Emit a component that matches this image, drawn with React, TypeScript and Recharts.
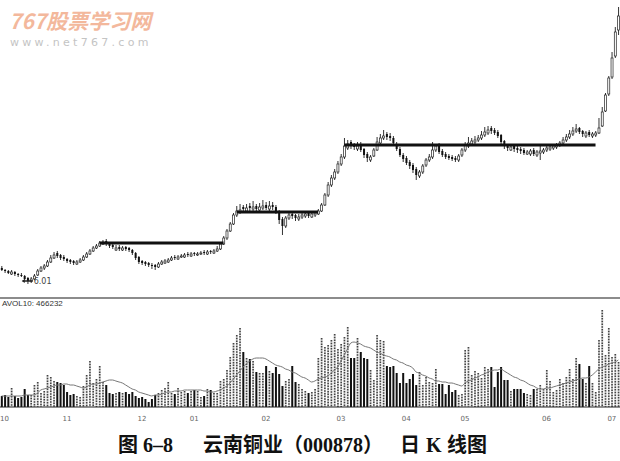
import { ComposedChart, Bar, Line, XAxis, YAxis, ReferenceLine, ReferenceDot } from "recharts";

// month labels on the volume axis, by bar index
const monthTicks = [0, 20, 43, 59, 81, 104, 124, 142, 167, 187];
const monthLabels = ["10", "11", "12", "01", "02", "03", "04", "05", "06", "07"];

const opens = [
  3.2, 3.0, 2.9, 2.6, 2.8, 2.6, 2.5, 2.4, 2.2, 1.9,
  2.1, 2.5, 2.9, 3.2, 3.4, 3.8, 4.2, 4.7, 4.5, 4.3,
  4.1, 4.0, 3.9, 3.6, 3.8, 4.0, 4.3, 4.6, 4.9, 5.2,
  5.4, 5.6, 5.9, 5.7, 5.5, 5.0, 5.3, 5.0, 5.3, 5.2,
  5.0, 4.7, 4.3, 3.9, 3.8, 3.7, 3.5, 3.5, 3.3, 3.6,
  3.7, 3.8, 4.0, 4.3, 4.1, 4.3, 4.3, 4.6, 4.4, 4.7,
  4.5, 4.6, 4.8, 4.6, 4.9, 4.7, 4.9, 5.1, 5.6, 6.2,
  6.9, 7.6, 8.5, 8.8, 9.3, 8.9, 9.4, 9.1, 9.4, 9.0,
  9.2, 9.5, 9.1, 9.5, 9.3, 8.9, 8.1, 7.4, 8.2, 8.6,
  8.5, 8.1, 8.3, 8.4, 8.7, 8.3, 8.5, 8.6, 8.9, 9.5,
  10.5, 11.5, 12.2, 12.8, 13.6, 14.3, 15.2, 15.8, 15.5, 15.1,
  15.5, 15.1, 14.6, 14.0, 14.4, 15.0, 15.7, 16.2, 16.6, 16.4,
  16.2, 15.6, 15.1, 14.5, 14.2, 13.8, 13.5, 13.1, 12.4, 12.8,
  13.5, 14.0, 14.3, 15.0, 15.6, 14.9, 14.6, 14.4, 14.3, 14.2,
  14.0, 14.5, 15.0, 15.4, 15.6, 15.8, 16.0, 16.2, 16.5, 16.7,
  17.2, 17.0, 16.8, 16.5, 15.9, 15.5, 15.0, 15.4, 15.2, 15.1,
  15.0, 14.6, 14.6, 15.0, 14.5, 14.7, 14.8, 15.0, 15.1, 15.2,
  15.3, 15.5, 15.7, 16.0, 16.3, 16.6, 16.9, 17.2, 16.9, 16.4,
  16.8, 16.4, 16.5, 16.7, 17.4, 18.9, 20.6, 22.3, 24.4, 27.0,
];

const closes = [
  3.0, 2.9, 2.7, 2.8, 2.6, 2.5, 2.4, 2.1, 1.9, 2.1,
  2.4, 2.9, 3.2, 3.4, 3.8, 4.2, 4.5, 4.4, 4.2, 4.1,
  3.9, 3.8, 3.7, 3.8, 4.0, 4.3, 4.6, 4.9, 5.2, 5.4,
  5.7, 5.8, 5.6, 5.4, 5.3, 5.2, 5.1, 5.2, 5.1, 5.0,
  4.7, 4.2, 3.8, 3.7, 3.6, 3.5, 3.4, 3.3, 3.6, 3.8,
  3.9, 4.0, 4.2, 4.2, 4.3, 4.4, 4.5, 4.5, 4.6, 4.6,
  4.6, 4.7, 4.7, 4.8, 4.8, 4.9, 5.1, 5.6, 6.2, 6.9,
  7.6, 8.5, 8.9, 9.0, 9.1, 9.2, 9.2, 9.3, 9.1, 9.3,
  9.4, 9.2, 9.4, 9.3, 8.9, 8.0, 7.4, 8.2, 8.5, 8.4,
  8.2, 8.3, 8.5, 8.6, 8.4, 8.6, 8.7, 8.9, 9.5, 10.5,
  11.5, 12.2, 12.8, 13.6, 14.3, 15.4, 15.6, 15.4, 15.3, 15.4,
  15.0, 14.5, 14.2, 14.3, 15.0, 15.8, 16.2, 16.4, 16.3, 16.2,
  15.7, 15.1, 14.5, 14.1, 13.7, 13.4, 13.0, 12.5, 12.8, 13.4,
  14.0, 14.3, 15.0, 15.4, 14.8, 14.5, 14.3, 14.2, 14.1, 14.0,
  14.4, 15.0, 15.5, 15.7, 15.9, 16.0, 16.2, 16.5, 16.8, 17.0,
  16.9, 16.7, 16.4, 15.8, 15.4, 15.2, 15.3, 15.1, 15.0, 14.9,
  14.7, 14.8, 14.9, 14.6, 14.8, 14.9, 15.0, 15.2, 15.3, 15.4,
  15.5, 15.7, 16.0, 16.3, 16.6, 16.9, 17.1, 16.8, 16.6, 16.7,
  16.5, 16.6, 16.7, 17.2, 18.8, 20.5, 22.2, 24.2, 26.8, 28.4,
];

const highs = [
  3.4, 3.1, 3.0, 3.0, 2.9, 2.7, 2.7, 2.5, 2.3, 2.3,
  2.6, 3.1, 3.4, 3.6, 4.0, 4.5, 4.8, 4.9, 4.6, 4.5,
  4.2, 4.1, 4.0, 4.0, 4.2, 4.5, 4.8, 5.1, 5.4, 5.6,
  5.9, 6.0, 6.1, 5.8, 5.7, 5.5, 5.5, 5.4, 5.4, 5.3,
  5.1, 4.8, 4.4, 4.0, 3.9, 3.8, 3.7, 3.6, 3.8, 4.0,
  4.1, 4.2, 4.4, 4.5, 4.5, 4.6, 4.7, 4.8, 4.8, 4.8,
  4.8, 4.9, 5.0, 5.0, 5.0, 5.1, 5.4, 5.8, 6.4, 7.1,
  7.8, 8.7, 9.4, 9.6, 9.5, 9.6, 9.7, 9.9, 9.6, 9.7,
  10.0, 9.8, 9.9, 9.8, 9.5, 9.0, 8.3, 8.4, 8.8, 8.8,
  8.6, 8.6, 8.8, 8.9, 8.9, 8.8, 8.9, 9.1, 9.7, 10.7,
  11.8, 12.5, 13.1, 13.9, 14.6, 16.2, 16.0, 16.0, 15.7, 15.8,
  15.8, 15.2, 14.8, 14.5, 15.2, 16.3, 16.6, 17.0, 16.8, 16.7,
  16.4, 15.8, 15.3, 14.7, 14.4, 14.0, 13.7, 13.3, 13.0, 13.6,
  14.2, 14.6, 15.8, 15.6, 15.7, 15.1, 14.8, 14.6, 14.5, 14.4,
  14.6, 15.2, 15.8, 16.3, 16.2, 16.4, 16.5, 16.9, 17.3, 17.4,
  17.4, 17.2, 17.0, 16.6, 16.0, 15.6, 15.5, 15.6, 15.4, 15.3,
  15.2, 15.0, 15.1, 15.2, 15.0, 15.6, 15.2, 15.4, 15.5, 15.6,
  15.7, 15.9, 16.3, 16.6, 17.0, 17.3, 17.6, 17.3, 17.0, 16.9,
  17.0, 16.8, 16.9, 18.2, 19.3, 20.7, 22.4, 24.8, 27.3, 29.3,
];

const lows = [
  2.9, 2.7, 2.6, 2.5, 2.4, 2.3, 2.3, 2.0, 1.6, 1.7,
  2.0, 2.4, 2.8, 3.0, 3.3, 3.7, 4.1, 4.2, 4.0, 3.9,
  3.7, 3.6, 3.5, 3.5, 3.7, 3.9, 4.2, 4.5, 4.8, 5.1,
  5.3, 5.5, 5.4, 5.2, 5.1, 4.9, 4.9, 4.9, 4.9, 4.8,
  4.5, 4.0, 3.6, 3.5, 3.4, 3.3, 3.1, 3.0, 3.2, 3.5,
  3.6, 3.7, 3.9, 4.0, 4.0, 4.2, 4.2, 4.3, 4.3, 4.4,
  4.4, 4.5, 4.5, 4.5, 4.6, 4.6, 4.8, 5.0, 5.5, 6.0,
  6.8, 7.5, 8.3, 8.6, 8.8, 8.7, 8.9, 8.9, 8.8, 8.8,
  9.0, 9.0, 8.9, 9.0, 8.6, 7.6, 6.5, 7.2, 8.0, 8.1,
  7.9, 7.9, 8.1, 8.2, 8.2, 8.2, 8.3, 8.5, 8.8, 9.4,
  10.3, 11.3, 12.0, 12.6, 13.4, 14.1, 15.0, 15.1, 15.0, 14.9,
  14.8, 14.2, 13.8, 13.8, 14.3, 14.9, 15.5, 16.0, 16.0, 15.9,
  15.5, 14.9, 14.3, 13.8, 13.5, 13.1, 12.7, 12.0, 12.2, 12.6,
  13.3, 13.8, 14.1, 14.8, 14.6, 14.3, 14.1, 14.0, 13.9, 13.8,
  13.8, 14.3, 14.8, 15.2, 15.4, 15.6, 15.8, 16.0, 16.3, 16.5,
  16.6, 16.5, 16.2, 15.6, 15.1, 14.9, 14.9, 14.8, 14.7, 14.6,
  14.5, 14.5, 14.4, 14.4, 14.3, 14.0, 14.6, 14.8, 14.9, 15.0,
  15.1, 15.3, 15.5, 15.8, 16.1, 16.4, 16.7, 16.6, 16.3, 16.2,
  16.3, 16.2, 16.3, 16.6, 17.3, 18.8, 20.4, 22.1, 24.2, 26.5,
];

// volume, in units of 10,000 shares
const volumes = [
  11, 12, 10, 19, 11, 9, 10, 18, 12, 12,
  22, 25, 14, 16, 32, 30, 26, 25, 24, 22,
  15, 12, 13, 11, 10, 21, 32, 46, 24, 28,
  41, 25, 22, 14, 13, 14, 15, 14, 15, 13,
  15, 11, 9, 10, 8, 5, 8, 12, 14, 17,
  19, 25, 14, 13, 19, 15, 16, 14, 16, 17,
  16, 10, 11, 18, 17, 14, 14, 26, 28, 37,
  50, 64, 72, 79, 55, 49, 48, 46, 35, 34,
  34, 41, 36, 34, 40, 33, 21, 26, 28, 41,
  25, 23, 18, 16, 14, 15, 18, 49, 69, 60,
  62, 67, 73, 58, 63, 70, 80, 49, 49, 69,
  55, 49, 48, 37, 27, 72, 67, 66, 41, 40,
  41, 34, 24, 34, 24, 28, 33, 22, 35, 22,
  30, 25, 24, 38, 23, 23, 13, 22, 15, 17,
  12, 13, 57, 60, 32, 36, 34, 29, 40, 38,
  40, 20, 35, 40, 27, 27, 16, 18, 18, 18,
  14, 13, 12, 18, 18, 22, 18, 37, 26, 15,
  17, 28, 24, 30, 38, 28, 49, 43, 28, 24,
  41, 24, 15, 67, 97, 52, 79, 50, 53, 45,
];

// AVOL10 line as drawn
const volMA = [
  11, 11, 11, 11, 11, 11, 11, 12, 12, 12,
  12, 14, 17, 18, 19, 20, 21, 22, 22, 23,
  23, 22, 22, 21, 20, 19, 20, 22, 23, 23,
  24, 25, 26, 27, 27, 26, 25, 24, 22, 20,
  18, 17, 15, 14, 13, 12, 11, 12, 12, 13,
  14, 15, 15, 16, 16, 16, 17, 17, 17, 17,
  17, 17, 16, 16, 15, 15, 16, 17, 19, 21,
  24, 28, 32, 36, 40, 43, 46, 48, 49, 49,
  49, 48, 46, 44, 42, 41, 40, 38, 37, 35,
  34, 32, 30, 29, 27, 25, 26, 28, 29, 30,
  31, 34, 37, 40, 46, 52, 58, 64, 65, 64,
  63, 61, 60, 59, 57, 55, 54, 52, 51, 50,
  48, 47, 45, 44, 42, 41, 39, 35, 34, 32,
  31, 29, 28, 26, 26, 25, 25, 24, 24, 23,
  22, 21, 24, 26, 27, 29, 30, 32, 33, 35,
  36, 37, 37, 38, 36, 34, 32, 30, 29, 27,
  26, 24, 22, 21, 19, 18, 18, 19, 19, 20,
  21, 22, 23, 24, 25, 26, 27, 28, 29, 29,
  30, 32, 35, 38, 40, 41, 43, 44, 45, 47,
];

// platform lines drawn across the consolidation zones
const levelValues = [5.7, 8.8, 15.5];
const levelStarts = [30, 72, 105];
const levelEnds = [68, 97, 182];

const lowIndex = 8;

const data = opens.map((o, i) => ({
  i,
  open: o,
  close: closes[i],
  high: highs[i],
  low: lows[i],
  range: [lows[i], highs[i]],
  vol: volumes[i],
  ma: volMA[i],
  up: closes[i] >= o,
}));

function Candle(props: any) {
  const { x, y, width, height, payload } = props;
  const top = Math.min(y, y + height);
  const h = Math.abs(height);
  const span = payload.high - payload.low || 1;
  const py = (v: number) => top + ((payload.high - v) / span) * h;
  const cx = x + width / 2;
  const y1 = py(Math.max(payload.open, payload.close));
  const y2 = py(Math.min(payload.open, payload.close));
  return (
    <g>
      <line x1={cx} x2={cx} y1={top} y2={top + h} stroke="#333" strokeWidth={1} />
      <rect
        x={cx - 1}
        y={y1}
        width={2}
        height={Math.max(1, y2 - y1)}
        fill={payload.up ? "#fff" : "#111"}
        stroke="#222"
        strokeWidth={payload.up ? 0.7 : 0}
      />
    </g>
  );
}

function VolBar(props: any) {
  const { x, y, width, height, payload } = props;
  const cx = x + width / 2;
  if (payload.up) {
    return (
      <g>
        <rect x={cx - 1} y={y} width={2} height={height} fill="#dcdcdc" />
        <line x1={cx} x2={cx} y1={y} y2={y + height} stroke="#444" strokeWidth={1.6} strokeDasharray="1.5 1.2" />
      </g>
    );
  }
  return <rect x={cx - 1} y={y} width={2} height={height} fill="#111" />;
}

function MonthTick(props: any) {
  const { x, y, payload } = props;
  const k = monthTicks.indexOf(payload.value);
  if (k < 0) return <g />;
  const first = k === 0;
  return (
    <text
      x={first ? 0 : x}
      y={y + 6}
      textAnchor={first ? "start" : "middle"}
      fontSize={7}
      fill="#666"
      fontFamily="DejaVu Sans"
    >
      {monthLabels[k]}
    </text>
  );
}

function LowMark(props: any) {
  const { cx, cy } = props;
  return (
    <g>
      <line x1={cx - 5} x2={cx + 5} y1={cy - 3} y2={cy - 3} stroke="#222" strokeWidth={1.5} />
      <path d={`M${cx - 6},${cy - 3} l3,-2 l0,4 z`} fill="#222" />
      <text x={cx + 6} y={cy} fontSize={8} fill="#444" fontFamily="DejaVu Sans">6.01</text>
    </g>
  );
}

export default function App() {
  return (
    <div style={{ position: "absolute", left: 0, top: 0, width: 620, height: 461, background: "#fff", overflow: "hidden" }}>
      <div
        style={{
          position: "absolute", left: 9, top: 10, fontSize: 21, lineHeight: "21px", fontWeight: 700,
          fontStyle: "italic", color: "#f3b89c", fontFamily: '"Noto Sans CJK SC", sans-serif', whiteSpace: "nowrap",
        }}
      >
        767股票学习网
      </div>
      <div
        style={{
          position: "absolute", left: 10, top: 37, fontSize: 11, lineHeight: "11px", letterSpacing: 3.3,
          color: "#c4c4c4", fontFamily: '"DejaVu Sans", sans-serif', whiteSpace: "nowrap",
        }}
      >
        www.net767.com
      </div>

      <div style={{ position: "absolute", left: 0, top: 0 }}>
        <ComposedChart width={620} height={296} data={data} margin={{ top: 0, right: 0, bottom: 0, left: 0 }}>
          <XAxis dataKey="i" type="category" hide />
          <YAxis type="number" domain={[0.4, 30]} hide allowDataOverflow />
          {levelValues.map((v, k) => (
            <ReferenceLine
              key={k}
              segment={[{ x: levelStarts[k], y: v }, { x: levelEnds[k], y: v }]}
              stroke="#111"
              strokeWidth={3}
              ifOverflow="visible"
            />
          ))}
          <Bar dataKey="range" shape={Candle} isAnimationActive={false} />
          <ReferenceDot x={lowIndex} y={lows[lowIndex]} r={0} shape={LowMark} ifOverflow="visible" />
        </ComposedChart>
      </div>

      <div style={{ position: "absolute", left: 0, top: 297, width: 620, height: 2, background: "#8c8c8c" }} />
      <div
        style={{
          position: "absolute", left: 2, top: 300, fontSize: 8, lineHeight: "8px", color: "#333",
          fontFamily: '"Liberation Sans", sans-serif', whiteSpace: "nowrap",
        }}
      >
        AVOL10: 466232
      </div>

      <div style={{ position: "absolute", left: 0, top: 296 }}>
        <ComposedChart width={620} height={127} data={data} margin={{ top: 4, right: 0, bottom: 0, left: 0 }}>
          <XAxis
            dataKey="i"
            type="category"
            interval={0}
            tick={MonthTick}
            tickLine={false}
            axisLine={{ stroke: "#222" }}
            height={16}
          />
          <YAxis type="number" domain={[0, 107]} hide allowDataOverflow />
          <Bar dataKey="vol" shape={VolBar} isAnimationActive={false} />
          <Line dataKey="ma" type="monotone" stroke="#777" strokeWidth={1} dot={false} isAnimationActive={false} />
        </ComposedChart>
      </div>

      <div
        style={{
          position: "absolute", left: 0, top: 435, width: 620, height: 22, fontSize: 20, lineHeight: "20px",
          fontWeight: 700, color: "#111", fontFamily: '"Liberation Serif", "Noto Sans CJK SC", serif', whiteSpace: "pre",
        }}
      >
        <span style={{ position: "absolute", left: 118 }}>图 6–8</span>
        <span style={{ position: "absolute", left: 203 }}>云南铜业（000878）</span>
        <span style={{ position: "absolute", left: 400 }}>日</span>
        <span style={{ position: "absolute", left: 426 }}>K</span>
        <span style={{ position: "absolute", left: 447 }}>线图</span>
      </div>
    </div>
  );
}
